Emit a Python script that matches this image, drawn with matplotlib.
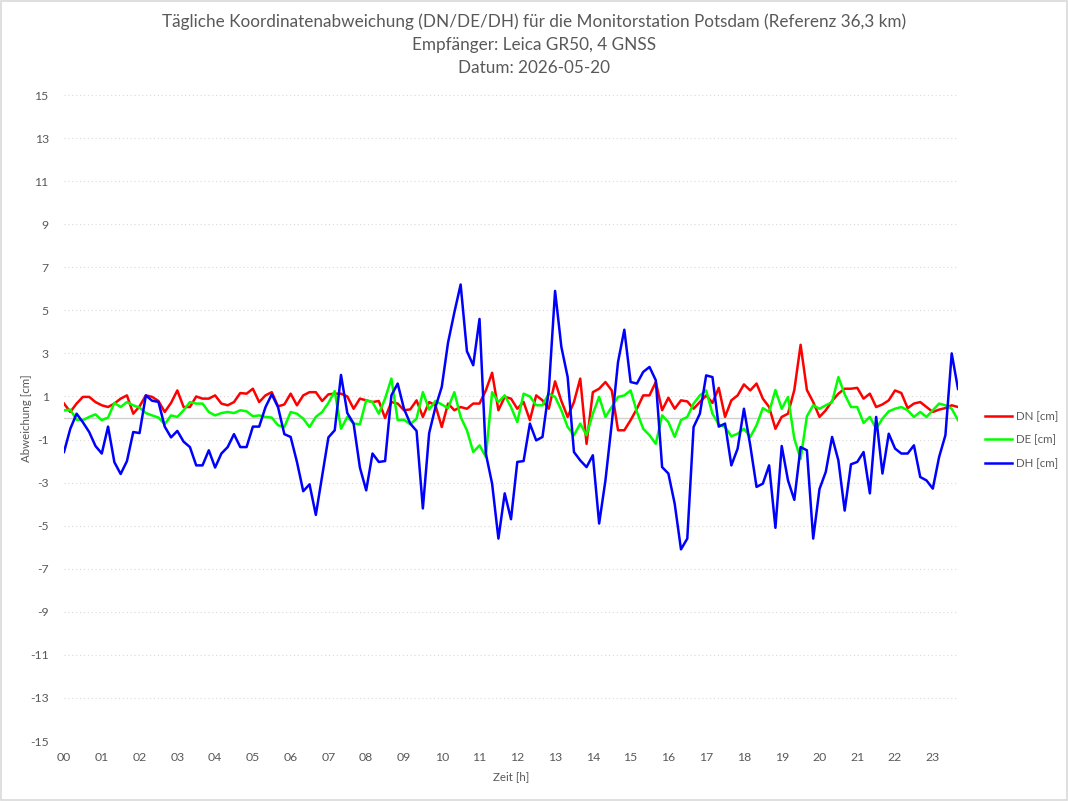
import matplotlib
matplotlib.use("Agg")
import matplotlib.pyplot as plt
import numpy as np

# time step 10 minutes, hours
step_h = 1.0 / 6.0

dn = [0.67, 0.28, 0.67, 0.98, 0.98, 0.74, 0.59, 0.51, 0.67, 0.9,
      1.05, 0.2, 0.54, 1.05, 0.98, 0.79, 0.28, 0.7, 1.28, 0.51,
      0.51, 1.0, 0.9, 0.9, 1.05, 0.67, 0.59, 0.74, 1.16, 1.13,
      1.36, 0.74, 1.05, 1.2, 0.54, 0.63, 1.13, 0.59, 1.05, 1.2,
      1.2, 0.79, 1.1, 1.13, 1.13, 1.0, 0.43, 0.9, 0.82, 0.74,
      0.79, 0.0, 0.74, 0.67, 0.36, 0.4, 0.82, 0.05, 0.74, 0.59,
      -0.42, 0.67, 0.36, 0.51, 0.43, 0.67, 0.67, 1.28, 2.1, 0.36,
      0.98, 0.9, 0.43, 0.74, -0.1, 1.05, 0.82, 0.43, 1.7, 0.79,
      0.05, 0.74, 1.83, -1.2, 1.2, 1.36, 1.67, 1.28, -0.57, -0.57,
      -0.1, 0.43, 1.05, 1.05, 1.67, 0.36, 0.94, 0.43, 0.82, 0.77,
      0.43, 0.74, 1.05, 0.7, 1.4, 0.05, 0.82, 1.05, 1.56, 1.28,
      1.6, 0.9, 0.51, -0.5, 0.05, 0.2, 1.3, 3.4, 1.3, 0.74,
      0.05, 0.36, 0.79, 1.13, 1.36, 1.36, 1.4, 0.9, 1.13, 0.51,
      0.63, 0.82, 1.28, 1.16, 0.46, 0.67, 0.74, 0.51, 0.28, 0.39,
      0.46, 0.59, 0.51]

de = [0.35, 0.39, -0.08, -0.1, 0.05, 0.17, -0.1, 0.02, 0.7, 0.51,
      0.74, 0.59, 0.48, 0.23, 0.12, 0.02, -0.29, 0.12, 0.05, 0.36,
      0.74, 0.67, 0.67, 0.28, 0.12, 0.23, 0.28, 0.23, 0.36, 0.31,
      0.08, 0.12, 0.05, 0.02, -0.34, -0.42, 0.28, 0.2, -0.03, -0.42,
      0.05, 0.28, 0.7, 1.25, -0.5, 0.05, -0.26, -0.29, 0.82, 0.74,
      0.2, 0.9, 1.83, -0.1, -0.08, -0.29, -0.03, 1.2, 0.39, 0.79,
      0.63, 0.46, 1.2, 0.05, -0.57, -1.58, -1.27, -1.8, 1.2, 0.74,
      1.05, 0.51, -0.19, 1.13, 1.0, 0.59, 0.59, 1.13, 0.98, 0.36,
      -0.42, -0.8, -0.26, -0.8, 0.2, 0.98, 0.05, 0.51, 0.98, 1.05,
      1.28, 0.28, -0.5, -0.8, -1.2, 0.12, -0.19, -0.88, -0.1, 0.05,
      0.67, 1.05, 1.28, 0.2, -0.3, -0.42, -0.85, -0.73, -0.5, -0.88,
      -0.34, 0.46, 0.28, 1.3, 0.43, 0.98, -0.96, -1.9, 0.08, 0.59,
      0.43, 0.59, 0.74, 1.9, 1.1, 0.51, 0.51, -0.23, 0.05, -0.5,
      -0.03, 0.31, 0.43, 0.51, 0.36, 0.05, 0.28, 0.05, 0.36, 0.67,
      0.59, 0.43, -0.1]

dh = [-1.58, -0.5, 0.2, -0.2, -0.65, -1.3, -1.65, -0.4, -2.05, -2.6,
      -2.0, -0.65, -0.7, 1.05, 0.8, 0.75, -0.4, -0.9, -0.6, -1.1,
      -1.35, -2.2, -2.2, -1.5, -2.3, -1.65, -1.35, -0.75, -1.35, -1.35,
      -0.4, -0.4, 0.5, 1.1, 0.5, -0.75, -0.88, -2.04, -3.4, -3.08,
      -4.5, -2.7, -0.9, -0.57, 2.0, 0.23, -0.26, -2.3, -3.36, -1.65,
      -2.04, -2.0, 1.05, 1.6, 0.43, -0.26, -0.6, -4.2, -0.7, 0.5,
      1.44, 3.5, 4.9, 6.2, 3.1, 2.45, 4.6, -1.65, -3.05, -5.6,
      -3.5, -4.7, -2.04, -2.0, -0.26, -1.04, -0.88, 1.28, 5.9, 3.3,
      1.9, -1.58, -1.97, -2.28, -1.73, -4.9, -2.9, -0.26, 2.6, 4.1,
      1.67, 1.6, 2.14, 2.37, 1.75, -2.28, -2.58, -3.98, -6.1, -5.6,
      -0.42, 0.2, 1.98, 1.9, -0.4, -0.26, -2.2, -1.42, 0.43, -1.27,
      -3.2, -3.05, -2.2, -5.1, -1.3, -2.9, -3.8, -1.35, -1.5, -5.6,
      -3.3, -2.5, -0.88, -1.97, -4.3, -2.15, -2.04, -1.58, -3.5, 0.05,
      -2.58, -0.73, -1.42, -1.65, -1.65, -1.27, -2.74, -2.9, -3.28, -1.81,
      -0.8, 3.0, 1.35]

series_names = ["DN [cm]", "DE [cm]", "DH [cm]"]
series_colors = ["#FF0000", "#00FF00", "#0000FF"]
hour_labels = ["%02d" % h for h in range(24)]
y_ticks = list(range(-15, 16, 2))

title_lines = ["Tägliche Koordinatenabweichung (DN/DE/DH) für die Monitorstation Potsdam (Referenz 36,3 km)",
               "Empfänger: Leica GR50, 4 GNSS",
               "Datum: 2026-05-20"]

plt.rcParams['font.family'] = ['Lato', 'DejaVu Sans']
plt.rcParams['axes.unicode_minus'] = False
txt = "#595959"

W, H = 1068, 801
fig = plt.figure(figsize=(W / 100, H / 100), dpi=100)
ax = fig.add_axes([64 / W, 1 - 741 / H, (958 - 64) / W, (741 - 95) / H])

t = np.arange(len(dn)) * step_h
for vals, name, col in zip([dn, de, dh], series_names, series_colors):
    ax.plot(t, vals, color=col, lw=1.8, label=name, solid_joinstyle='round')

ax.set_xlim(t[0], t[-1])
ax.set_ylim(-15, 15)
ax.set_yticks(y_ticks)
ax.set_xticks(range(24))
ax.set_xticklabels(hour_labels)
ax.tick_params(length=0, colors=txt, labelsize=8.8)
ax.tick_params(axis='y', pad=11)
ax.tick_params(axis='x', pad=8)
ax.grid(axis='y', color='#D9D9D9', linestyle=(0, (1, 2.5)), lw=0.8)
ax.axhline(0, color='#D0D0D0', lw=1.0, zorder=1)
for s in ax.spines.values():
    s.set_visible(False)
ax.set_ylabel("Abweichung [cm]", color=txt, fontsize=8.3)
ax.yaxis.set_label_coords(-0.036, 0.5)
ax.set_xlabel("Zeit [h]", color=txt, fontsize=8.3, labelpad=6)

for i, line in enumerate(title_lines):
    fig.text(0.5, 1 - (22 + 23 * i) / H, line, ha='center', va='center',
             color=txt, fontsize=12.3)

leg = fig.legend(loc='center left', bbox_to_anchor=(985 / W, 1 - 440 / H), frameon=False,
                 fontsize=8.3, handlelength=2.3, labelspacing=1.05, handletextpad=0.35,
                 borderpad=0, borderaxespad=0)
for text in leg.get_texts():
    text.set_color(txt)

fig.patches.append(plt.Rectangle((0.001, 0.001), 0.998, 0.998, transform=fig.transFigure,
                                 fill=False, edgecolor='#D9D9D9', lw=1.2))

fig.savefig("out.png", dpi=100)
